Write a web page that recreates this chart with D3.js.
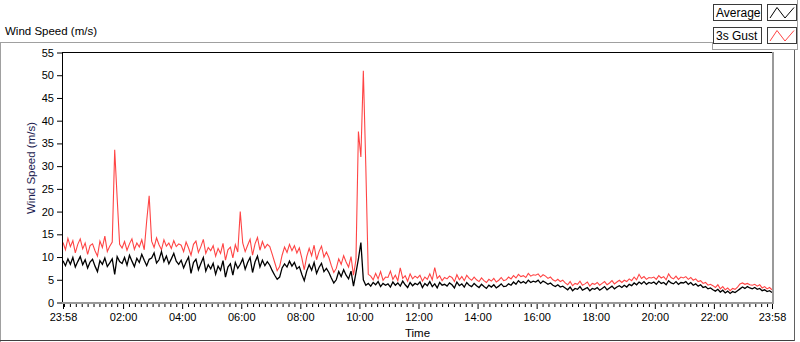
<!DOCTYPE html>
<html>
<head>
<meta charset="utf-8">
<script src="https://cdn.jsdelivr.net/npm/d3@7"></script>
<style>
    body { margin: 0; background: #fff; }
    text { font-family: "Liberation Sans", Arial, sans-serif; }
</style>
</head>
<body>
<div id="chart"></div>
<script>
// samples every 5 minutes, starting 23:58 (one row = one hour)
var sampleStepMin = 5;

var avgSpeed = [
    9.2, 8.1, 9.6, 8.4, 9.9, 7.8, 9.0, 10.1, 8.3, 9.4, 7.6, 8.9,
    9.5, 8.0, 6.8, 9.2, 8.4, 9.8, 7.9, 8.7, 9.6, 6.2, 10.1, 9.0,
    8.6, 9.9, 8.2, 10.4, 9.1, 7.9, 9.7, 8.8, 10.6, 9.3, 8.1, 9.5,
    9.8, 10.9, 8.7, 9.4, 11.2, 9.0, 10.2, 8.5, 9.6, 10.8, 9.1, 8.4,
    9.3, 7.6, 8.9, 10.0, 6.4, 8.8, 9.5, 7.2, 8.6, 9.9, 6.9, 8.3,
    7.4, 8.6, 6.2, 8.0, 7.1, 9.2, 5.6, 7.8, 8.5, 6.0, 8.8, 7.5,
    8.4, 9.6, 7.3, 8.8, 9.9, 6.6, 8.9, 10.2, 7.8, 9.3, 8.1, 9.0,
    8.2, 7.0, 6.0, 5.1, 5.6, 7.6, 8.5, 7.8, 9.1, 8.0, 8.8, 7.4,
    7.9, 6.2, 4.8, 6.9, 8.3, 7.1, 8.8, 6.4, 7.7, 8.6, 6.8, 7.5,
    6.6, 5.4, 4.3, 5.0, 6.8, 5.7, 7.2, 6.0, 5.2, 6.9, 3.6, 6.5,
    9.6, 13.2, 5.0, 3.8, 4.2, 3.6, 4.4, 3.9, 4.6, 3.5, 4.2, 3.8,
    4.1, 3.4, 4.5, 3.8, 4.3, 3.6, 4.7, 3.9, 3.3, 4.4, 3.7, 4.2,
    3.9, 4.5, 3.3, 4.2, 3.7, 4.6, 3.5, 4.1, 3.2, 4.4, 3.8, 4.0,
    3.6, 4.3, 3.9, 3.2, 4.5, 3.7, 4.1, 3.4, 4.4, 3.8, 3.5, 4.2,
    3.7, 3.3, 4.0, 3.5, 3.1, 3.8, 3.4, 3.9, 3.2, 3.6, 4.1, 3.5,
    3.6, 4.1, 3.8, 4.5, 4.0, 4.8, 4.3, 4.6, 4.2, 4.9, 4.4, 4.7,
    4.5, 4.9, 4.2, 4.7, 4.4, 4.0, 4.3, 3.8, 3.5, 3.9, 3.4, 3.6,
    3.2, 2.8, 3.4, 2.6, 3.1, 2.9, 3.5, 2.7, 3.0, 3.3, 2.6, 3.1,
    2.9, 3.3, 2.7, 3.1, 3.5, 2.8, 3.2, 3.6, 3.0, 3.4, 3.7, 3.3,
    3.8, 3.4, 4.0, 3.7, 4.3, 3.9, 4.5, 4.1, 4.6, 4.0, 4.4, 4.2,
    4.5, 4.0, 4.7, 4.2, 4.4, 3.9, 4.8, 4.3, 4.1, 4.6, 4.0, 4.4,
    4.3, 4.6, 4.0, 4.4, 3.8, 4.1, 3.6, 3.9, 3.3, 3.5, 3.0, 3.2,
    2.8, 2.5, 2.9, 2.3, 2.7, 2.1, 2.5, 2.0, 2.4, 2.2, 2.6, 3.0,
    3.4, 3.1, 3.5, 3.2, 3.0, 3.3, 2.9, 3.1, 2.6, 2.8, 2.4, 2.6,
    2.2
];

var gustSpeed = [
    13.2, 11.6, 14.1, 12.3, 13.6, 10.9, 12.8, 14.0, 11.8, 13.1, 10.6, 12.5,
    12.9, 11.4, 10.2, 13.5, 12.1, 14.6, 11.2, 12.4, 13.3, 33.6, 23.0, 12.8,
    12.0, 13.4, 11.5, 12.9, 14.0, 11.7, 13.1, 12.2, 13.8, 11.6, 18.0, 23.5,
    13.5, 12.1, 14.2, 12.7, 11.6, 13.8, 12.4, 13.1, 11.9, 13.6, 12.3, 12.9,
    12.6, 11.2, 13.3, 12.0, 10.4, 12.8, 13.5, 11.0, 12.3, 13.9, 10.8, 12.1,
    11.4, 12.5, 10.2, 11.9, 10.8, 13.0, 9.3, 11.6, 12.2, 9.8, 12.7, 11.1,
    20.0, 13.1, 11.2, 12.6, 13.9, 10.4, 12.9, 14.3, 11.5, 13.4, 12.0, 12.8,
    12.3, 10.6, 8.8, 7.0, 7.9, 10.4, 12.2, 11.0, 12.8, 11.4, 12.5, 10.9,
    12.0, 9.8, 7.2, 10.1, 11.9, 10.3, 12.6, 9.4, 11.2, 12.4, 10.0, 11.1,
    9.9, 8.1, 6.6, 7.5, 9.6, 8.4, 10.3, 8.9, 7.8, 10.1, 6.0, 9.4,
    37.6, 32.0, 51.0, 30.0, 6.2, 5.8, 5.0, 6.4, 5.2, 6.8, 4.9, 5.6,
    5.5, 6.9, 5.1, 6.0, 4.8, 7.6, 5.3, 5.9, 4.7, 6.3, 5.2, 5.8,
    5.4, 6.0, 4.7, 5.6, 5.1, 6.3, 5.0, 7.7, 5.3, 5.9, 4.8, 5.5,
    5.2, 5.8, 5.5, 4.6, 6.1, 5.0, 5.7, 4.8, 6.0, 5.3, 4.9, 5.6,
    5.0, 4.6, 5.4, 4.8, 4.4, 5.1, 4.7, 5.3, 4.5, 4.9, 5.5, 4.8,
    5.0, 5.6, 5.2, 5.9, 5.4, 6.2, 5.7, 5.9, 5.5, 6.4, 5.8, 6.1,
    6.0, 6.3, 5.6, 6.1, 5.8, 5.3, 5.6, 5.0, 4.7, 5.1, 4.6, 4.9,
    4.3, 3.9, 4.6, 3.7, 4.2, 4.0, 4.7, 3.8, 4.1, 4.5, 3.6, 4.2,
    4.0, 4.4, 3.8, 4.2, 4.6, 3.9, 4.3, 4.8, 4.1, 4.5, 4.9, 4.4,
    4.9, 4.6, 5.2, 4.8, 5.6, 5.0, 6.2, 5.3, 5.7, 5.1, 5.5, 5.4,
    5.6, 5.1, 5.9, 5.4, 5.7, 5.0, 6.3, 5.5, 5.2, 5.8, 5.1, 5.6,
    5.4, 5.7, 5.1, 5.5, 4.9, 5.2, 4.6, 4.8, 4.2, 4.4, 3.8, 4.0,
    3.7, 3.3, 3.9, 3.0, 3.5, 2.8, 3.2, 2.6, 3.1, 2.9, 3.4, 4.1,
    4.3, 4.0, 4.2, 3.9, 3.8, 4.0, 3.6, 3.9, 3.2, 3.5, 3.0, 3.3,
    2.8
];

// x ticks, in minutes after 23:58
var tickMinutes = [0, 122, 242, 362, 482, 602, 722, 842, 962, 1082, 1202, 1322, 1440];
var tickLabels = ["23:58", "02:00", "04:00", "06:00", "08:00", "10:00", "12:00",
                  "14:00", "16:00", "18:00", "20:00", "22:00", "23:58"];
var yTicks = [0, 5, 10, 15, 20, 25, 30, 35, 40, 45, 50, 55];

var seriesNames = ["Average", "3s Gust"];
var seriesColors = ["#000000", "#ff4444"];

var W = 800, H = 342;
var plot = {left: 63, right: 772, top: 52.5, bottom: 302.5};

var svg = d3.select("#chart").append("svg")
    .attr("width", W)
    .attr("height", H);

// outer panel frame
function line(x1, y1, x2, y2, color, w) {
    svg.append("line")
        .attr("x1", x1).attr("y1", y1).attr("x2", x2).attr("y2", y2)
        .attr("stroke", color).attr("stroke-width", w || 1)
        .attr("shape-rendering", "crispEdges");
}
line(0, 42.5, 712, 42.5, "#a0a0a0");
line(0.5, 42, 0.5, 342, "#a0a0a0");
line(0, 340.5, 795, 340.5, "#404040");
line(794.5, 49, 794.5, 341, "#606060");
line(712.5, 42, 712.5, 50, "#a0a0a0");
line(712, 49.5, 798, 49.5, "#a0a0a0");
line(797.5, 0, 797.5, 50, "#a0a0a0");

svg.append("text")
    .attr("x", 5).attr("y", 35)
    .style("font-size", "11.5px")
    .text("Wind Speed (m/s)");

var x = d3.scaleLinear()
    .domain([0, 1440])
    .range([plot.left, plot.right]);
var y = d3.scaleLinear()
    .domain([0, 55])
    .range([plot.bottom, plot.top]);

// plot area
svg.append("defs").append("clipPath").attr("id", "clip")
    .append("rect")
    .attr("x", plot.left).attr("y", plot.top)
    .attr("width", plot.right - plot.left).attr("height", plot.bottom - plot.top);

var lineGen = d3.line()
    .x(function (d, i) { return x(i * sampleStepMin); })
    .y(function (d) { return y(d); });

var g = svg.append("g").attr("clip-path", "url(#clip)");
g.append("path")
    .datum(gustSpeed)
    .attr("d", lineGen)
    .attr("fill", "none")
    .attr("stroke", seriesColors[1])
    .attr("stroke-width", 1.1);
g.append("path")
    .datum(avgSpeed)
    .attr("d", lineGen)
    .attr("fill", "none")
    .attr("stroke", seriesColors[0])
    .attr("stroke-width", 1.3);

// plot frame
line(62, 52.5, 773, 52.5, "#000");
line(62.5, 52, 62.5, 303, "#000");
line(62, 303, 774, 303, "#9a9a9a", 2);
line(773, 52, 773, 304, "#9a9a9a", 2);

// y axis
var yAxis = svg.append("g")
    .attr("transform", "translate(62,0)")
    .call(d3.axisLeft(y).tickValues(yTicks).tickSize(5).tickPadding(3));
yAxis.select(".domain").remove();
yAxis.selectAll("text").style("font-size", "11px").attr("fill", "#000");
yAxis.selectAll("line").attr("stroke", "#000");

svg.append("text")
    .attr("transform", "translate(35,168) rotate(-90)")
    .attr("text-anchor", "middle")
    .attr("fill", "#1c1c50")
    .style("font-size", "11.5px")
    .text("Wind Speed (m/s)");

// x axis: minor ticks every 12 minutes of clock time
var minorTicks = d3.range(2, 1440, 12).filter(function (m) {
    return tickMinutes.indexOf(m) < 0;
});
var xMinor = svg.append("g")
    .attr("transform", "translate(0,304)")
    .call(d3.axisBottom(x).tickValues(minorTicks).tickSize(3).tickFormat(""));
xMinor.select(".domain").remove();
xMinor.selectAll("line").attr("stroke", "#000");

var xAxis = svg.append("g")
    .attr("transform", "translate(0,304)")
    .call(d3.axisBottom(x).tickValues(tickMinutes)
        .tickFormat(function (d, i) { return tickLabels[i]; })
        .tickSize(5).tickPadding(4));
xAxis.select(".domain").remove();
xAxis.selectAll("text").style("font-size", "11px").attr("fill", "#000");
xAxis.selectAll("line").attr("stroke", "#000");

svg.append("text")
    .attr("x", (plot.left + plot.right) / 2).attr("y", 337)
    .attr("text-anchor", "middle")
    .style("font-size", "11.5px")
    .text("Time");

// legend
var legend = svg.append("g").selectAll("g")
    .data(seriesNames)
    .enter().append("g")
    .attr("transform", function (d, i) { return "translate(0," + (i * 23) + ")"; });

legend.append("rect")
    .attr("x", 713.5).attr("y", 4.5).attr("width", 48).attr("height", 16)
    .attr("fill", "#fff").attr("stroke", "#3a3a3a");
legend.append("text")
    .attr("x", 716).attr("y", 17)
    .style("font-size", "12px")
    .text(function (d) { return d; });
legend.append("rect")
    .attr("x", 767.5).attr("y", 4.5).attr("width", 29).attr("height", 16)
    .attr("fill", "#fff").attr("stroke", "#3a3a3a");
legend.append("path")
    .attr("d", "M770,18L777,7.5L785,18L794,7.5")
    .attr("fill", "none")
    .attr("stroke", function (d, i) { return seriesColors[i]; })
    .attr("stroke-width", 1);
</script>
</body>
</html>
